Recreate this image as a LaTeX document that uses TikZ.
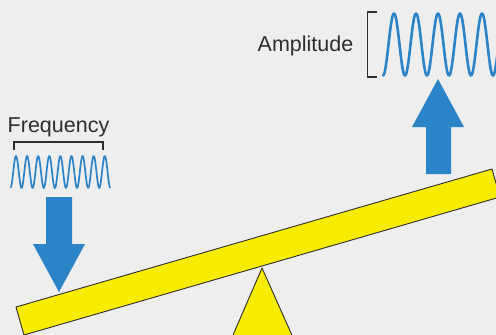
\documentclass[tikz,border=0pt]{standalone}
\usepackage{fontspec}
\setmainfont{Liberation Sans}
\usetikzlibrary{arrows.meta}

\definecolor{bgray}{HTML}{EEEEEE}
\definecolor{wblue}{HTML}{2B84C8}
\definecolor{byellow}{HTML}{F8EC00}
\definecolor{ink}{HTML}{2E2E2E}

\begin{document}
\begin{tikzpicture}[
    x=1pt, y=-1pt,
    label/.style={text=ink, inner sep=0pt, anchor=base, font=\fontsize{21.5}{24}\selectfont},
    brace/.style={draw=ink, line width=1.1pt},
    wave/.style={draw=wblue, line join=round, line cap=round},
    bigarrow/.style={fill=wblue},
    part/.style={fill=byellow, draw=ink, line width=0.9pt, line join=round}
]
    % 背景与边界
    \fill[bgray] (0,0) rectangle (496,335);
    \useasboundingbox (0,0) rectangle (496,335);
    \clip (0,0) rectangle (496,335);

    % 文字标签
    \node[label] (freq) at (58.5,132.7) {Frequency};
    \node[label] (ampl) at (305.5,51) {Amplitude};

    % 高频波与上方括号
    \draw[brace] (14,150) -- (14,142) -- (103,142) -- (103,150);
    \draw[wave, line width=1.7pt, domain=11:110, samples=240]
        plot (\x, {172 - 16*cos(32.432*(\x-16))});

    % 大振幅波与左侧括号
    \draw[brace] (377,12) -- (367.5,12) -- (367.5,77) -- (377,77);
    \draw[wave, line width=2.6pt, domain=383:500, samples=200]
        plot (\x, {44.5 - 31*cos(16.364*(\x-394))});

    % 向下的箭头 (左)
    \fill[bigarrow] (46,197) -- (72,197) -- (72,244) -- (85,244)
        -- (59,292) -- (33,244) -- (46,244) -- cycle;

    % 向上的箭头 (右)
    \fill[bigarrow] (426,174) -- (451,174) -- (451,127) -- (464,127)
        -- (438,79) -- (412,127) -- (426,127) -- cycle;

    % 支点三角形
    \draw[part] (230,342) -- (262,268) -- (295,342);

    % 跷跷板横梁
    \draw[part] (16,307) -- (492,169) -- (500,197) -- (24,335) -- cycle;

\end{tikzpicture}
\end{document}
